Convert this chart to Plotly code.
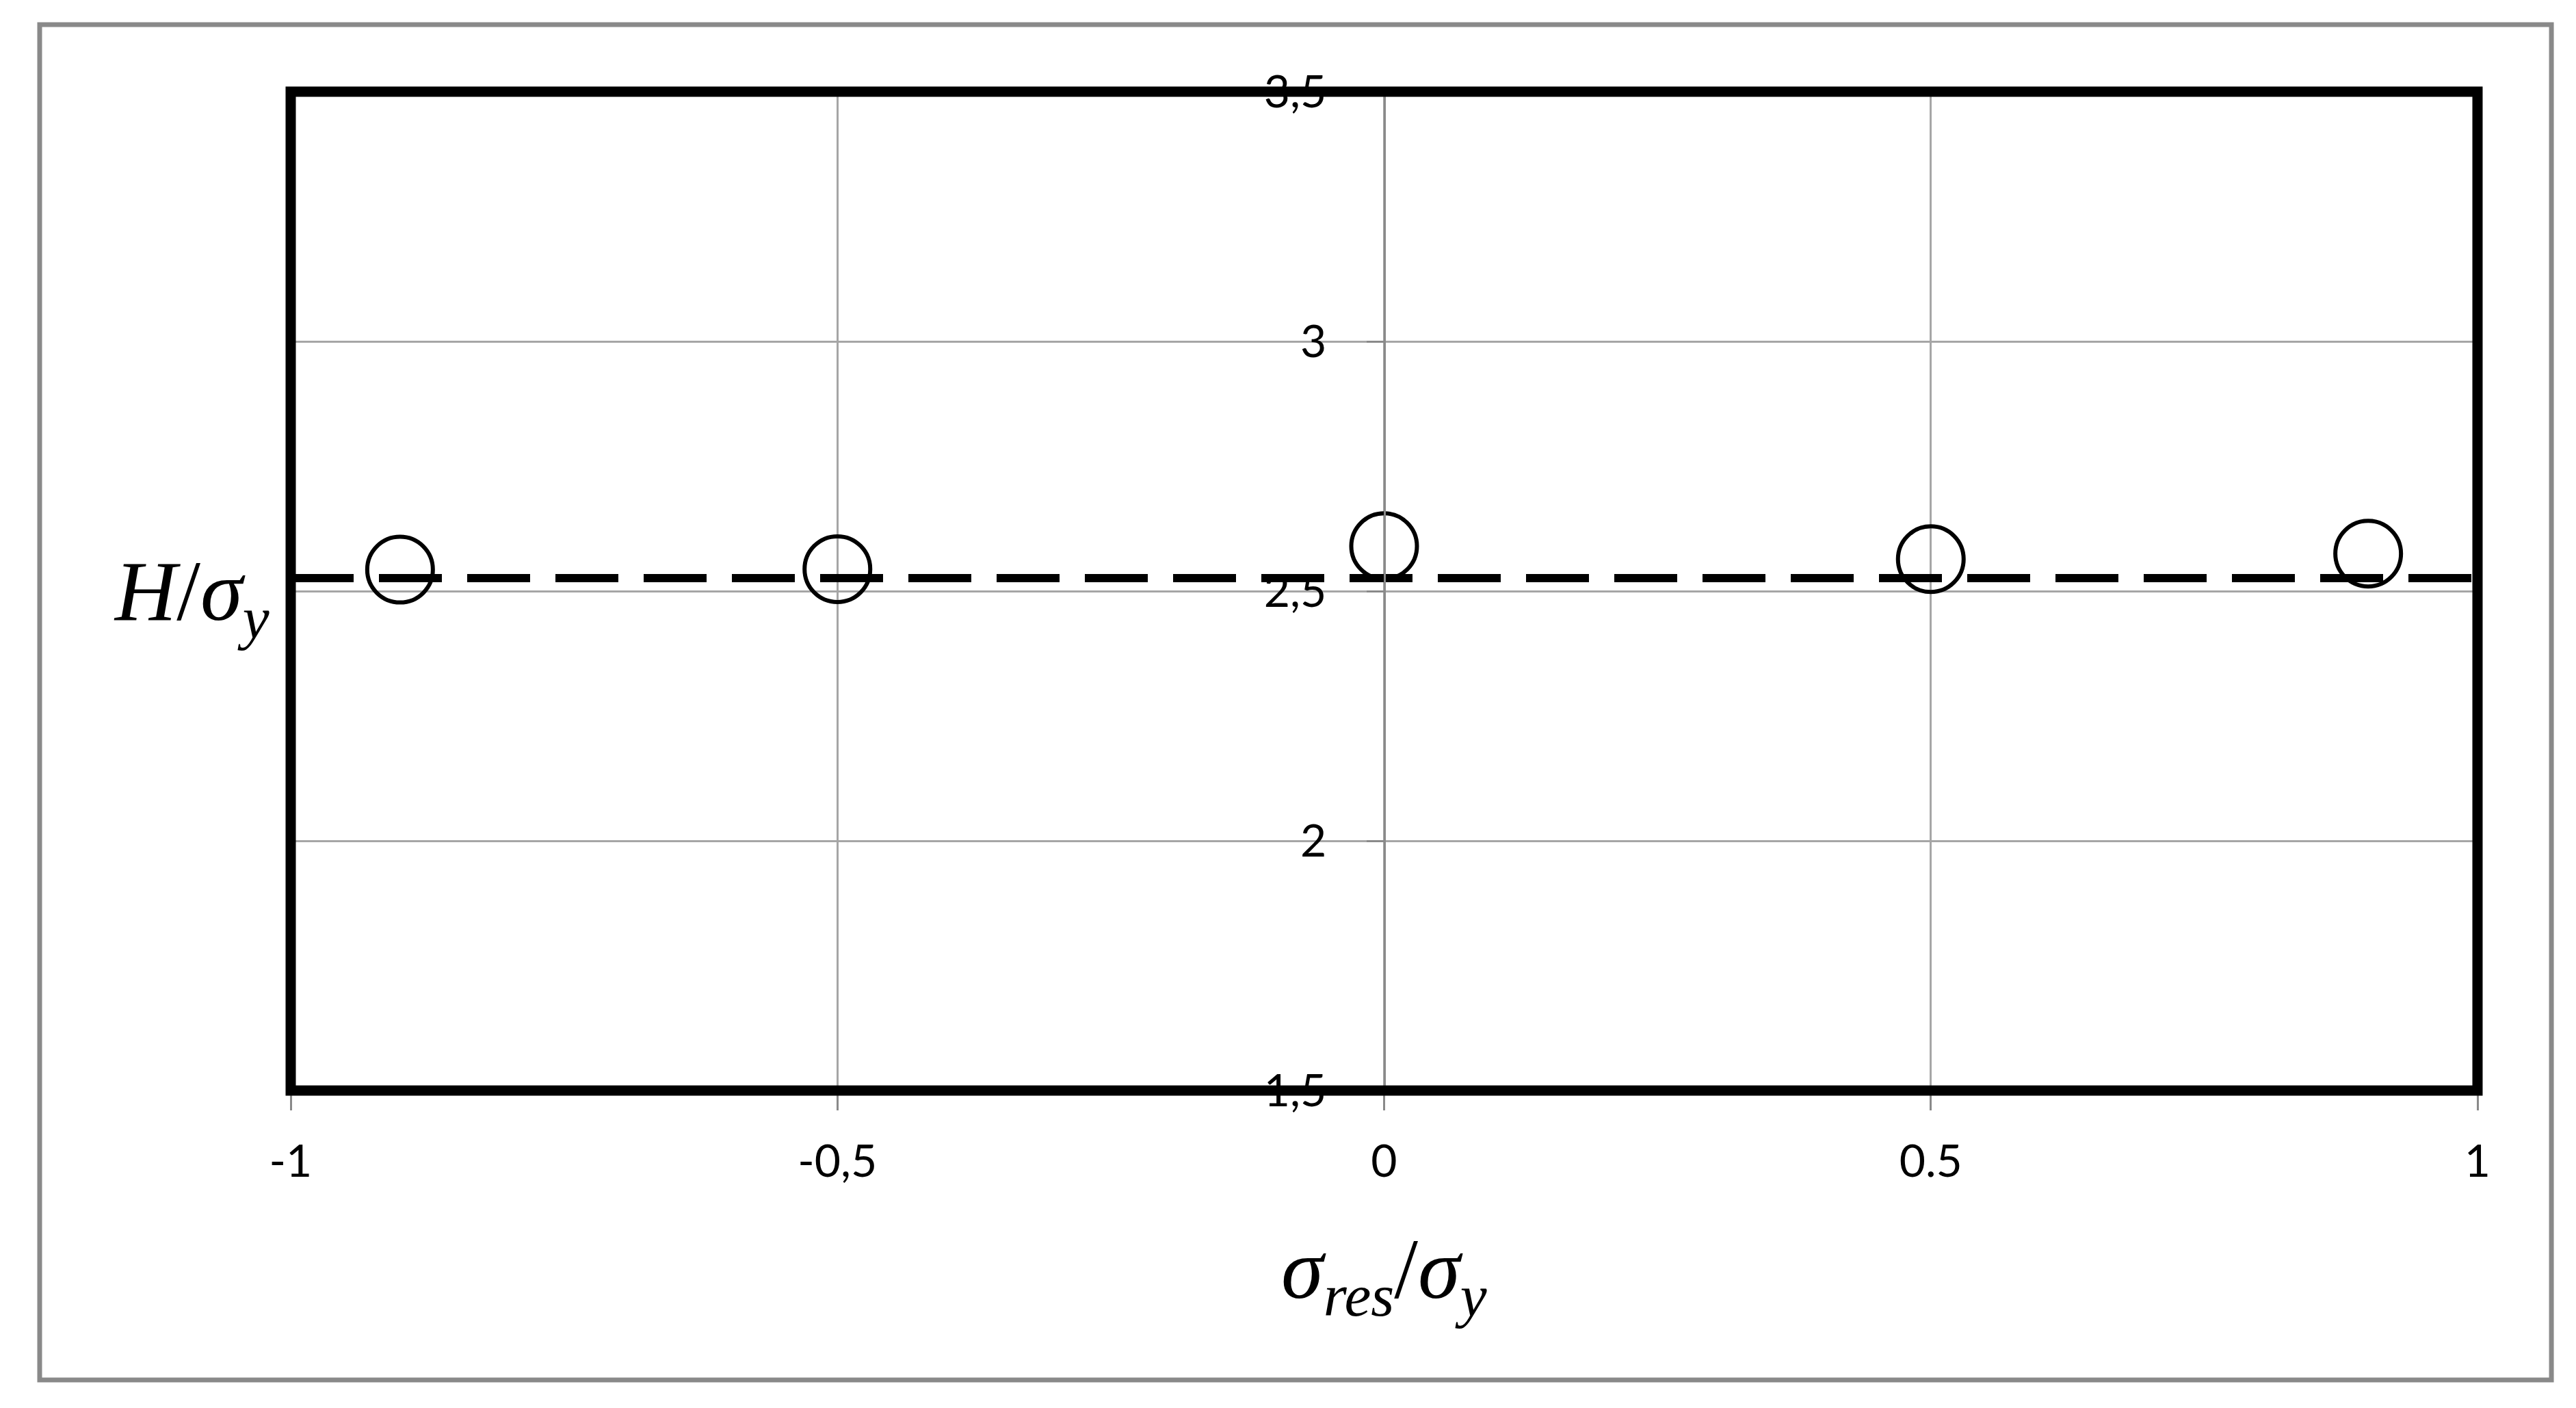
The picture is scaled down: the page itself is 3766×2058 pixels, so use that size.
import plotly.graph_objects as go

# data
SIGMA_RES = [-0.9, -0.5, 0.0, 0.5, 0.9]
H_RATIO = [2.543, 2.544, 2.590, 2.564, 2.575]
FIT_X = [-1, 1]
FIT_Y = [2.526, 2.526]

X_TICKS = [-1, -0.5, 0, 0.5, 1]
X_TICKTEXT = ["-1", "-0,5", "0", "0.5", "1"]
Y_TICKS = [1.5, 2, 2.5, 3, 3.5]
Y_TICKTEXT = ["1,5", "2", "2,5", "3", "3,5"]

GRID = "#a6a6a6"
AXIS = "#8a8a8a"
TICK_FONT = dict(family="Lato", size=66, color="#000000")
TITLE_FONT = dict(family="Liberation Serif", size=125, color="#000000")

fig = go.Figure()

fig.add_trace(go.Scatter(
    x=SIGMA_RES, y=H_RATIO, mode="markers",
    marker=dict(symbol="circle-open", size=96, color="#000000", line=dict(width=6, color="#000000")),
))
# mean line
fig.add_trace(go.Scatter(
    x=FIT_X, y=FIT_Y, mode="lines",
    line=dict(color="#000000", width=12, dash="92px,37px"),
))

fig.update_layout(
    width=3766, height=2058,
    margin=dict(l=417, r=152, t=126, b=472),
    paper_bgcolor="white", plot_bgcolor="white",
    showlegend=False,
    xaxis=dict(
        range=[-1, 1], tickvals=X_TICKS, ticktext=X_TICKTEXT,
        showgrid=True, gridcolor=GRID, gridwidth=3, zeroline=False,
        showline=True, linecolor=AXIS, linewidth=4,
        ticks="outside", ticklen=25, tickwidth=3, tickcolor=AXIS,
        tickfont=TICK_FONT, ticklabelstandoff=18,
    ),
    yaxis=dict(
        range=[1.5, 3.5], tickvals=Y_TICKS, ticktext=Y_TICKTEXT,
        anchor="free", position=0.5,
        showgrid=True, gridcolor=GRID, gridwidth=3, zeroline=False,
        showline=True, linecolor=AXIS, linewidth=3,
        ticks="outside", ticklen=25, tickwidth=3, tickcolor=AXIS,
        tickfont=TICK_FONT, ticklabelstandoff=45,
    ),
    shapes=[
        # outer chart border
        dict(type="rect", xref="paper", yref="paper",
             x0=-0.1148, x1=1.0338, y0=-0.2897, y1=1.0671,
             line=dict(color="#898989", width=7), layer="below"),
        # heavy plot frame
        dict(type="rect", xref="x domain", yref="y domain",
             x0=0, x1=1, y0=0, y1=1,
             line=dict(color="#000000", width=15), layer="above"),
    ],
    annotations=[
        dict(text="<i>H</i>/<i>σ<sub>y</sub></i>", xref="paper", yref="paper",
             x=-0.009, y=0.494, xanchor="right", yanchor="middle",
             showarrow=False, font=TITLE_FONT),
        dict(text="<i>σ<sub>res</sub></i>/<i>σ<sub>y</sub></i>", xref="paper", yref="paper",
             x=0.5, y=-0.185, xanchor="center", yanchor="middle",
             showarrow=False, font=TITLE_FONT),
    ],
)

fig.write_html("out.html")
